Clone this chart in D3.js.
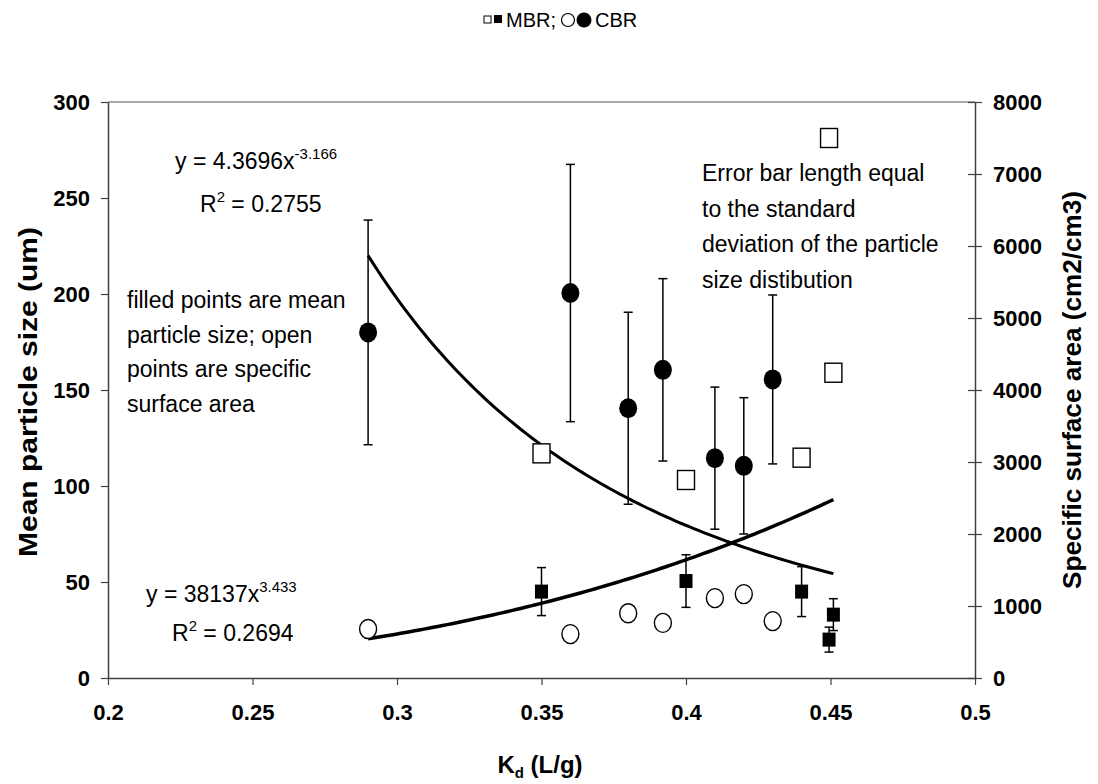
<!DOCTYPE html>
<html>
<head>
<meta charset="utf-8">
<script src="https://cdn.jsdelivr.net/npm/d3@7"></script>
<style>
  body { margin: 0; background: #fff; }
  svg { font-family: "Liberation Sans", Arial, sans-serif; }
</style>
</head>
<body>
<div id="chart"></div>
<script>
// CBR: filled circles = mean particle size (left axis), open circles = specific surface area (right axis)
const kdCbr = [0.29, 0.36, 0.38, 0.392, 0.41, 0.42, 0.43];
const cbrSize = [180, 200.5, 140.5, 160.5, 114.5, 110.5, 155.5];
const cbrSd = [58.5, 67, 50, 47.5, 37, 35.5, 44];
const cbrArea = [680, 610, 900, 765, 1110, 1165, 790];

// MBR: filled squares = mean particle size, open squares = specific surface area
const kdMbr = [0.35, 0.40, 0.44, 0.4495, 0.451];
const mbrSize = [45, 50.5, 45, 20, 33];
const mbrSd = [12.5, 13.7, 13, 6.5, 8.3];
const mbrArea = [3120, 2750, 3060, 7500, 4240];

// power trendlines y = a * x^b, as printed on the chart
const sizeFit = [4.3696, -3.166];
const areaFit = [38137, 3.433];
const fitRange = [0.29, 0.451];

const xTicks = [0.2, 0.25, 0.3, 0.35, 0.4, 0.45, 0.5];
const leftTicks = [0, 50, 100, 150, 200, 250, 300];
const rightTicks = [0, 1000, 2000, 3000, 4000, 5000, 6000, 7000, 8000];

const W = 1098, H = 784;
const svg = d3.select("#chart").append("svg").attr("width", W).attr("height", H);

const x = d3.scaleLinear().domain([0.2, 0.5]).range([108, 975]);
const yL = d3.scaleLinear().domain([0, 300]).range([678, 102]);
const yR = d3.scaleLinear().domain([0, 8000]).range([678, 102]);

// top border
svg.append("line")
    .attr("x1", x(0.2)).attr("x2", x(0.5))
    .attr("y1", yL(300)).attr("y2", yL(300))
    .attr("stroke", "#8c8c8c").attr("stroke-width", 1.5);

const axisColor = "#404040";
function styleAxis(g) {
    g.select(".domain").attr("stroke", axisColor).attr("stroke-width", 1.5);
    g.selectAll(".tick line").attr("stroke", axisColor).attr("stroke-width", 1.2);
    g.selectAll(".tick text")
        .attr("fill", "#000")
        .style("font-size", "22px")
        .style("font-weight", "bold");
}

svg.append("g")
    .attr("transform", `translate(0,${yL(0)})`)
    .call(d3.axisBottom(x).tickValues(xTicks).tickFormat(d3.format("")).tickSize(7).tickSizeOuter(0).tickPadding(19))
    .call(styleAxis);

svg.append("g")
    .attr("transform", `translate(${x(0.2)},0)`)
    .call(d3.axisLeft(yL).tickValues(leftTicks).tickSize(7).tickSizeOuter(0).tickPadding(11))
    .call(styleAxis);

const rightAxis = svg.append("g")
    .attr("transform", `translate(${x(0.5)},0)`)
    .call(d3.axisRight(yR).tickValues(rightTicks).tickFormat(d3.format("d")).tickSize(7).tickSizeOuter(0).tickPadding(11))
    .call(styleAxis);
rightAxis.selectAll(".tick line").attr("x1", -7);

// axis titles
svg.append("text")
    .attr("transform", "translate(30,392) rotate(-90)")
    .attr("text-anchor", "middle").attr("dominant-baseline", "middle")
    .attr("textLength", 330).attr("lengthAdjust", "spacingAndGlyphs")
    .style("font-size", "26px").style("font-weight", "bold")
    .text("Mean particle size (um)");

svg.append("text")
    .attr("transform", "translate(1074,390) rotate(-90)")
    .attr("text-anchor", "middle").attr("dominant-baseline", "middle")
    .attr("textLength", 398).attr("lengthAdjust", "spacingAndGlyphs")
    .style("font-size", "25px").style("font-weight", "bold")
    .text("Specific surface area (cm2/cm3)");

const xt = svg.append("text")
    .attr("x", 540).attr("y", 773)
    .attr("text-anchor", "middle")
    .style("font-size", "24px").style("font-weight", "bold");
xt.append("tspan").text("K");
xt.append("tspan").attr("dy", 5).style("font-size", "15px").text("d");
xt.append("tspan").attr("dy", -5).text(" (L/g)");

// trendlines
function fitLine(fit, scale) {
    const pts = d3.range(0, 101).map(i => fitRange[0] + (fitRange[1] - fitRange[0]) * i / 100);
    return d3.line().x(d => x(d)).y(d => scale(fit[0] * Math.pow(d, fit[1])))(pts);
}
svg.append("path").attr("d", fitLine(sizeFit, yL))
    .attr("fill", "none").attr("stroke", "#000").attr("stroke-width", 3);
svg.append("path").attr("d", fitLine(areaFit, yR))
    .attr("fill", "none").attr("stroke", "#000").attr("stroke-width", 3.5);

// error bars
function errorBars(kd, vals, sds, cap) {
    const g = svg.append("g").attr("stroke", "#000").attr("stroke-width", 1.5);
    kd.forEach((k, i) => {
        const cx = x(k), top = yL(vals[i] + sds[i]), bot = yL(vals[i] - sds[i]);
        g.append("line").attr("x1", cx).attr("x2", cx).attr("y1", top).attr("y2", bot);
        g.append("line").attr("x1", cx - cap).attr("x2", cx + cap).attr("y1", top).attr("y2", top);
        g.append("line").attr("x1", cx - cap).attr("x2", cx + cap).attr("y1", bot).attr("y2", bot);
    });
}
errorBars(kdCbr, cbrSize, cbrSd, 4.5);
errorBars(kdMbr, mbrSize, mbrSd, 4.5);

// open markers (right axis)
svg.append("g").selectAll("ellipse")
    .data(kdCbr.map((k, i) => [k, cbrArea[i]]))
    .join("ellipse")
    .attr("cx", d => x(d[0])).attr("cy", d => yR(d[1]))
    .attr("rx", 8.5).attr("ry", 9.5)
    .attr("fill", "#fff").attr("stroke", "#000").attr("stroke-width", 1.4);

svg.append("g").selectAll("rect")
    .data(kdMbr.map((k, i) => [k, mbrArea[i]]))
    .join("rect")
    .attr("x", d => x(d[0]) - 8.5).attr("y", d => yR(d[1]) - 9.5)
    .attr("width", 17).attr("height", 19)
    .attr("fill", "#fff").attr("stroke", "#000").attr("stroke-width", 1.4);

// filled markers (left axis)
svg.append("g").selectAll("ellipse")
    .data(kdCbr.map((k, i) => [k, cbrSize[i]]))
    .join("ellipse")
    .attr("cx", d => x(d[0])).attr("cy", d => yL(d[1]))
    .attr("rx", 9).attr("ry", 10)
    .attr("fill", "#000");

svg.append("g").selectAll("rect")
    .data(kdMbr.map((k, i) => [k, mbrSize[i]]))
    .join("rect")
    .attr("x", d => x(d[0]) - 6.5).attr("y", d => yL(d[1]) - 7)
    .attr("width", 13).attr("height", 14)
    .attr("fill", "#000");

// annotations
function multiline(x0, y0, lines, step) {
    const t = svg.append("text").style("font-size", "23px");
    lines.forEach((l, i) => t.append("tspan").attr("x", x0).attr("y", y0 + i * step).text(l));
}
multiline(702, 181, ["Error bar length equal", "to the standard", "deviation of the particle", "size distibution"], 35.5);
multiline(127, 308, ["filled points are mean", "particle size; open", "points are specific", "surface area"], 34.5);

function equation(x0, y0, coef, expo, r2x, r2y, r2) {
    const t = svg.append("text").attr("x", x0).attr("y", y0).style("font-size", "23px");
    t.append("tspan").text(`y = ${coef}x`);
    t.append("tspan").attr("dy", -10).style("font-size", "15px").text(expo);
    const r = svg.append("text").attr("x", r2x).attr("y", r2y).style("font-size", "23px");
    r.append("tspan").text("R");
    r.append("tspan").attr("dy", -10).style("font-size", "15px").text("2");
    r.append("tspan").attr("dy", 10).text(` = ${r2}`);
}
equation(175, 169, "4.3696", "-3.166", 200, 212, "0.2755");
equation(146, 602, "38137", "3.433", 172, 641, "0.2694");

// legend
const leg = svg.append("g");
leg.append("rect").attr("x", 484).attr("y", 16).attr("width", 7).attr("height", 7)
    .attr("fill", "#fff").attr("stroke", "#000").attr("stroke-width", 1);
leg.append("rect").attr("x", 494).attr("y", 15).attr("width", 8).attr("height", 8).attr("fill", "#000");
leg.append("text").attr("x", 506).attr("y", 27).style("font-size", "20px").text("MBR;");
leg.append("circle").attr("cx", 568).attr("cy", 20).attr("r", 6.5)
    .attr("fill", "#fff").attr("stroke", "#000").attr("stroke-width", 1.2);
leg.append("circle").attr("cx", 584).attr("cy", 20).attr("r", 7.5).attr("fill", "#000");
leg.append("text").attr("x", 595).attr("y", 27).style("font-size", "20px").text("CBR");
</script>
</body>
</html>
